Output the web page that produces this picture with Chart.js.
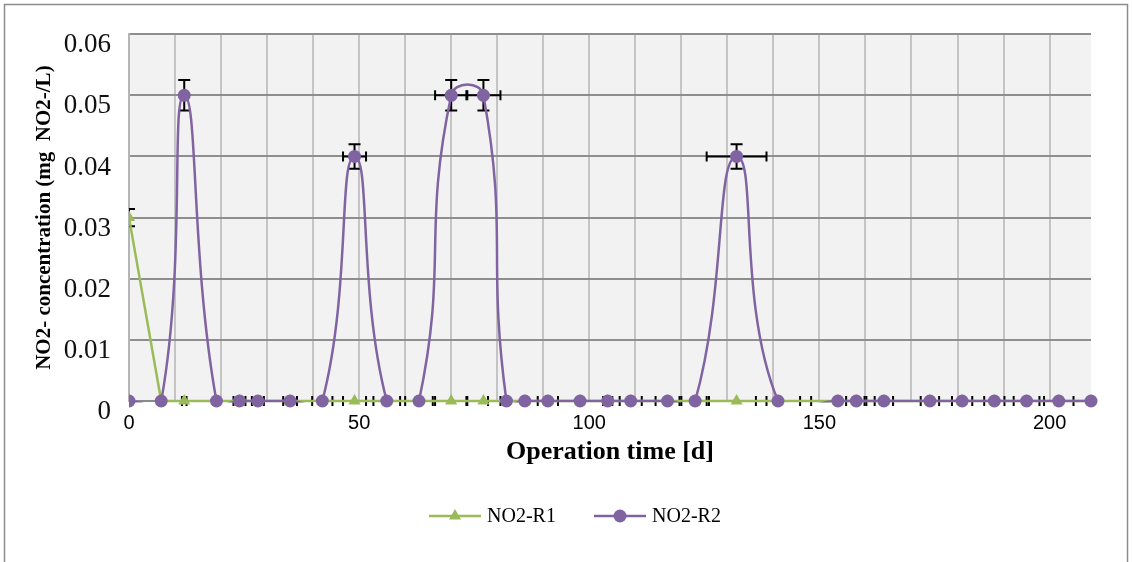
<!DOCTYPE html>
<html>
<head>
<meta charset="utf-8">
<script src="https://cdn.jsdelivr.net/npm/chart.js@4.4.1/dist/chart.umd.min.js"></script>
<style>
  body { margin: 0; background: #fff; }
</style>
</head>
<body>
<canvas id="myChart" width="1132" height="562"></canvas>
<script>
// operation days (shared by both reactors)
var days = [0, 7, 12, 19, 24, 28, 35, 42, 49, 56, 63, 70, 77, 82, 86, 91,
            98, 104, 109, 117, 123, 132, 141, 154, 158, 164, 174, 181, 188, 195, 202, 209];

// NO2- concentration (mg NO2-/L)
var r1 = [0.03, 0, 0, 0, 0, 0, 0, 0, 0, 0, 0, 0, 0, 0, 0, 0,
          0, 0, 0, 0, 0, 0, 0, 0, 0, 0, 0, 0, 0, 0, 0, 0];
var r2 = [0, 0, 0.05, 0, 0, 0, 0, 0, 0.04, 0, 0, 0.05, 0.05, 0, 0, 0,
          0, 0, 0, 0, 0, 0.04, 0, 0, 0, 0, 0, 0, 0, 0, 0, 0];

// error bars: y in mg/L, x in days
var r1YErr = [0.0014, 0, 0, 0, 0, 0, 0, 0, 0, 0, 0, 0, 0, 0, 0, 0,
              0, 0, 0, 0, 0, 0, 0, 0, 0, 0, 0, 0, 0, 0, 0, 0];
var r2YErr = [0, 0, 0.0025, 0, 0, 0, 0, 0, 0.002, 0, 0, 0.0025, 0.0025, 0, 0, 0,
              0, 0, 0, 0, 0, 0.002, 0, 0, 0, 0, 0, 0, 0, 0, 0, 0];
var r1XErr = [0, 0, 0.5, 0, 0, 0, 0, 0, 2.5, 0, 0, 3.5, 3.7, 0, 0, 0,
              0, 0, 0, 0, 0, 6.5, 0, 0, 0, 0, 0, 0, 0, 0, 0, 0];
var r2XErr = [0, 0, 0, 0, 1.3, 1.3, 1.5, 2.2, 2.5, 2.9, 3, 3.5, 3.7, 4, 0, 2.2,
              0.5, 1, 2.4, 2.6, 3, 6.5, 4.8, 5.8, 2.2, 2, 2, 2.2, 2.2, 2.8, 3.2, 0];

var green = '#9bbb59';
var purple = '#8064a2';
var serif = '"Liberation Serif", "Times New Roman", serif';
var sans = '"Liberation Sans", Arial, sans-serif';

function points(vals) {
    return days.map(function (d, i) { return {x: d, y: vals[i]}; });
}

var chartBackground = {
    id: 'chartBackground',
    beforeDraw: function (chart) {
        var ctx = chart.ctx, a = chart.chartArea;
        ctx.save();
        ctx.fillStyle = '#fff';
        ctx.fillRect(0, 0, chart.width, chart.height);
        ctx.fillStyle = '#f2f2f2';
        ctx.fillRect(a.left, a.top, a.right - a.left, a.bottom - a.top);
        ctx.strokeStyle = '#8c8c8c';
        ctx.lineWidth = 1.5;
        ctx.strokeRect(4.5, 4.5, chart.width - 9, chart.height + 10);
        ctx.restore();
    }
};

var errorBars = {
    id: 'errorBars',
    beforeDatasetsDraw: function (chart) {
        var ctx = chart.ctx, xs = chart.scales.x, ys = chart.scales.y, a = chart.chartArea;
        ctx.save();
        ctx.beginPath();
        ctx.rect(a.left, 0, a.right - a.left, chart.height);
        ctx.clip();
        ctx.strokeStyle = '#000';
        ctx.lineWidth = 2;
        [[r1, r1XErr, r1YErr], [r2, r2XErr, r2YErr]].forEach(function (s) {
            days.forEach(function (d, i) {
                var v = s[0][i], ex = s[1][i], ey = s[2][i];
                var px = xs.getPixelForValue(d), py = ys.getPixelForValue(v);
                ctx.beginPath();
                if (ey > 0) {
                    var t = ys.getPixelForValue(v + ey), b = ys.getPixelForValue(v - ey);
                    ctx.moveTo(px, t); ctx.lineTo(px, b);
                    ctx.moveTo(px - 6, t); ctx.lineTo(px + 6, t);
                    ctx.moveTo(px - 6, b); ctx.lineTo(px + 6, b);
                }
                if (ex > 0) {
                    var l = xs.getPixelForValue(d - ex), r = xs.getPixelForValue(d + ex);
                    ctx.moveTo(l, py); ctx.lineTo(r, py);
                    ctx.moveTo(l, py - 5); ctx.lineTo(l, py + 5);
                    ctx.moveTo(r, py - 5); ctx.lineTo(r, py + 5);
                }
                ctx.stroke();
            });
        });
        ctx.restore();
    }
};

// legend with line + marker, like the spreadsheet one
var lineLegend = {
    id: 'lineLegend',
    afterDraw: function (chart) {
        var ctx = chart.ctx;
        var items = [
            {ds: chart.data.datasets[0], x: 429, style: 'triangle'},
            {ds: chart.data.datasets[1], x: 594, style: 'circle'}
        ];
        var y = 516;
        ctx.save();
        items.forEach(function (it) {
            var c = it.ds.borderColor, mx = it.x + 26;
            ctx.strokeStyle = c;
            ctx.lineWidth = 2.5;
            ctx.beginPath();
            ctx.moveTo(it.x, y); ctx.lineTo(it.x + 52, y);
            ctx.stroke();
            ctx.fillStyle = c;
            ctx.beginPath();
            if (it.style === 'circle') {
                ctx.arc(mx, y, 6.5, 0, Math.PI * 2);
            } else {
                ctx.moveTo(mx, y - 7);
                ctx.lineTo(mx + 6.06, y + 3.5);
                ctx.lineTo(mx - 6.06, y + 3.5);
                ctx.closePath();
            }
            ctx.fill();
            ctx.fillStyle = '#000';
            ctx.font = '20px ' + serif;
            ctx.textBaseline = 'middle';
            ctx.fillText(it.ds.label, it.x + 58, y + 1);
        });
        ctx.restore();
    }
};

var ctx = document.getElementById('myChart').getContext('2d');
var myChart = new Chart(ctx, {
    type: 'line',
    data: {
        datasets: [{
            label: 'NO2-R1',
            data: points(r1),
            borderColor: green,
            backgroundColor: green,
            borderWidth: 2.5,
            tension: 0,
            pointStyle: 'triangle',
            pointRadius: 7,
            pointBorderWidth: 0,
            pointBackgroundColor: green,
            order: 3,
            clip: {left: 0, top: false, right: false, bottom: false}
        }, {
            label: 'NO2-R2',
            data: points(r2),
            borderColor: purple,
            backgroundColor: purple,
            borderWidth: 2.5,
            tension: 0.5,
            capBezierPoints: false,
            pointRadius: 0,
            order: 2,
            clip: {left: 0, top: false, right: false, bottom: 1.5}
        }, {
            label: 'NO2-R2 markers',
            data: points(r2),
            showLine: false,
            pointStyle: 'circle',
            pointRadius: 6.5,
            pointBorderWidth: 0,
            pointBackgroundColor: purple,
            borderColor: purple,
            order: 1,
            clip: {left: 0, top: false, right: false, bottom: false}
        }]
    },
    options: {
        responsive: false,
        animation: false,
        layout: {
            padding: {left: 0, top: 33, right: 41, bottom: 91}
        },
        plugins: {
            legend: {display: false},
            tooltip: {enabled: false}
        },
        scales: {
            x: {
                type: 'linear',
                min: 0,
                max: 209,
                grid: {color: '#c4c4c4', lineWidth: 2, drawTicks: false},
                border: {color: '#8a8a8a', width: 2},
                ticks: {
                    stepSize: 10,
                    includeBounds: false,
                    autoSkip: false,
                    maxRotation: 0,
                    padding: 10,
                    color: '#000',
                    font: {family: sans, size: 20},
                    callback: function (v) { return v % 50 === 0 ? String(v) : ''; }
                },
                title: {
                    display: true,
                    text: 'Operation time [d]',
                    color: '#000',
                    font: {family: serif, size: 26, weight: 'bold'},
                    padding: {top: 0, bottom: 3}
                },
                afterFit: function (scale) { scale.height = 70; }
            },
            y: {
                min: 0,
                max: 0.06,
                grid: {color: '#8e8e8e', lineWidth: 2, drawTicks: false},
                border: {color: '#b5b5b5', width: 2},
                ticks: {
                    stepSize: 0.01,
                    padding: 18,
                    labelOffset: 11,
                    color: '#111',
                    font: {family: serif, size: 27},
                    callback: function (v) { return v === 0 ? '0' : v.toFixed(2); }
                },
                title: {
                    display: true,
                    text: 'NO2- concentration (mg  NO2-/L)',
                    color: '#000',
                    font: {family: serif, size: 21, weight: 'bold'},
                    padding: {top: 32, bottom: 0}
                },
                afterFit: function (scale) { scale.width = 129; }
            }
        }
    },
    plugins: [chartBackground, errorBars, lineLegend]
});
</script>
</body>
</html>
